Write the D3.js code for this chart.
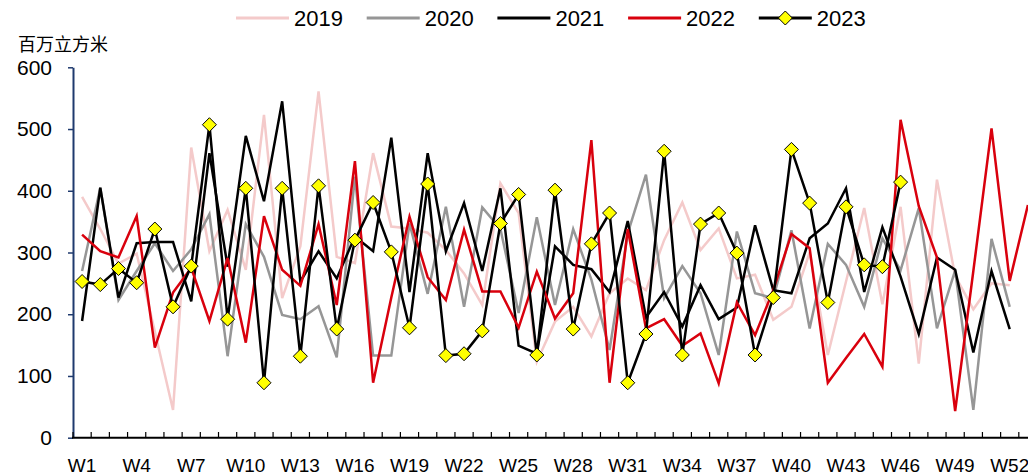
<!DOCTYPE html>
<html>
<head>
<meta charset="utf-8">
<script src="https://cdn.jsdelivr.net/npm/d3@7"></script>
<style>
	body { margin: 0; background: #fff; }
	text { font-family: "Liberation Sans Narrow", "Arial Narrow", "Liberation Sans", Arial, sans-serif; }
</style>
</head>
<body>
<div id="chart"></div>
<script>

// weekly values, 百万立方米
const weeks = d3.range(1, 54).map(d => 'W' + d)

const v2019 = [390, 338, 282, 298, 172, 45, 470, 302, 369, 272, 523, 226, 310, 561, 293, 283, 461, 342, 339, 332,
	304, 266, 215, 412, 364, 123, 188, 212, 164, 234, 258, 239, 320, 381, 304, 339, 258, 264, 191, 212,
	300, 134, 253, 372, 216, 374, 120, 418, 262, 208, 250, 247]

const v2020 = [270, 405, 223, 270, 315, 270, 305, 362, 132, 346, 293, 199, 192, 213, 130, 423, 133, 133, 347, 233,
	374, 212, 373, 338, 202, 357, 215, 338, 256, 142, 331, 426, 226, 278, 234, 134, 334, 234, 226, 336,
	177, 314, 280, 212, 323, 271, 372, 177, 271, 45, 322, 212]

const v2021 = [189, 405, 227, 315, 317, 317, 221, 461, 277, 489, 383, 545, 253, 302, 258, 326, 302, 486, 236, 461,
	302, 380, 270, 404, 149, 136, 310, 280, 273, 236, 351, 195, 236, 180, 247, 192, 211, 344, 239, 234,
	323, 347, 404, 236, 341, 261, 168, 292, 272, 138, 270, 176]

const v2022 = [329, 302, 292, 359, 146, 235, 275, 189, 291, 154, 359, 272, 246, 346, 215, 448, 89, 227, 358, 260,
	223, 337, 237, 237, 178, 269, 193, 234, 482, 89, 338, 177, 192, 149, 169, 88, 219, 166, 239, 330,
	307, 89, 129, 168, 115, 515, 375, 292, 43, 270, 501, 254, 377]

const v2023 = [253, 248, 274, 251, 338, 212, 278, 507, 192, 404, 89, 404, 132, 408, 176, 320, 381, 301, 178, 411,
	133, 136, 173, 347, 394, 134, 401, 176, 314, 364, 89, 168, 464, 134, 346, 364, 299, 134, 227, 467,
	380, 219, 374, 280, 277, 414]

const yTicks = [0, 100, 200, 300, 400, 500, 600]
const xLabels = weeks.filter((d, i) => i % 3 == 0 && i < 52)

const seriesList = [
	{name: '2019', values: v2019, color: '#f4caca', width: 2.5},
	{name: '2020', values: v2020, color: '#969696', width: 2.5},
	{name: '2021', values: v2021, color: '#000000', width: 2.5},
	{name: '2022', values: v2022, color: '#d9000d', width: 2.5},
	{name: '2023', values: v2023, color: '#000000', width: 2.5, marker: true}
]

const width = 1028
const height = 475

const svg = d3.select('#chart')
	.append('svg')
	.attr('width', width)
	.attr('height', height)

let xScale = d3.scaleBand()
	.domain(weeks)
	.range([73, 1037])

let yScale = d3.scaleLinear()
	.domain([0, 600])
	.range([437.7, 67.3])

let xMid = d => xScale(d) + xScale.bandwidth() / 2

// y axis
let yAxis = svg.append('g')
	.attr('transform', 'translate(73,0)')
	.call(d3.axisLeft(yScale).tickValues(yTicks).tickSize(5).tickPadding(16).tickSizeOuter(0))

yAxis.select('.domain').attr('stroke', '#1f3a6e').attr('stroke-width', 2)
yAxis.selectAll('.tick line').attr('stroke', '#1f3a6e').attr('stroke-width', 1.5)
yAxis.selectAll('.tick text')
	.attr('fill', '#000')
	.style('font-size', '21px')

// x axis, ticks between weeks pointing up
svg.append('line')
	.attr('x1', 72)
	.attr('x2', width)
	.attr('y1', 437.7)
	.attr('y2', 437.7)
	.attr('stroke', '#000')
	.attr('stroke-width', 2)

svg.selectAll('xTicks')
	.data(weeks)
	.enter()
	.append('line')
	.attr('x1', d => xScale(d))
	.attr('x2', d => xScale(d))
	.attr('y1', 437.7)
	.attr('y2', 432)
	.attr('stroke', '#000')
	.attr('stroke-width', 1.2)

svg.selectAll('xLabels')
	.data(xLabels)
	.enter()
	.append('text')
	.attr('x', d => xMid(d))
	.attr('y', 472)
	.attr('text-anchor', 'middle')
	.style('font-size', '19px')
	.text(d => d)

// unit
svg.append('text')
	.attr('x', 18)
	.attr('y', 51)
	.style('font-family', '"Noto Sans CJK SC", sans-serif')
	.style('font-size', '18px')
	.text('百万立方米')

// lines
let lineGen = d3.line()
	.x((d, i) => xMid(weeks[i]))
	.y(d => yScale(d))

seriesList.forEach(function(s){

	svg.append('path')
		.datum(s.values)
		.attr('d', lineGen)
		.attr('fill', 'none')
		.attr('stroke', s.color)
		.attr('stroke-width', s.width)
		.attr('stroke-linejoin', 'miter')
})

const diamond = 'M0,-7L7,0L0,7L-7,0Z'

svg.selectAll('markers')
	.data(v2023)
	.enter()
	.append('path')
	.attr('d', diamond)
	.attr('transform', (d, i) => 'translate(' + xMid(weeks[i]) + ',' + yScale(d) + ')')
	.attr('fill', '#ffff00')
	.attr('stroke', '#000')
	.attr('stroke-width', 1)

// legend
let legend = svg.selectAll('legendItems')
	.data(seriesList)
	.enter()
	.append('g')
	.attr('transform', (d, i) => 'translate(' + (236 + i * 130.7) + ',18)')

legend.append('line')
	.attr('x1', 0)
	.attr('x2', 53)
	.attr('stroke', d => d.color)
	.attr('stroke-width', 3)

legend.filter(d => d.marker)
	.append('path')
	.attr('d', diamond)
	.attr('transform', 'translate(26.5,0)')
	.attr('fill', '#ffff00')
	.attr('stroke', '#000')
	.attr('stroke-width', 1)

legend.append('text')
	.attr('x', 58)
	.attr('y', 8)
	.style('font-size', '22px')
	.text(d => d.name)

</script>
</body>
</html>
